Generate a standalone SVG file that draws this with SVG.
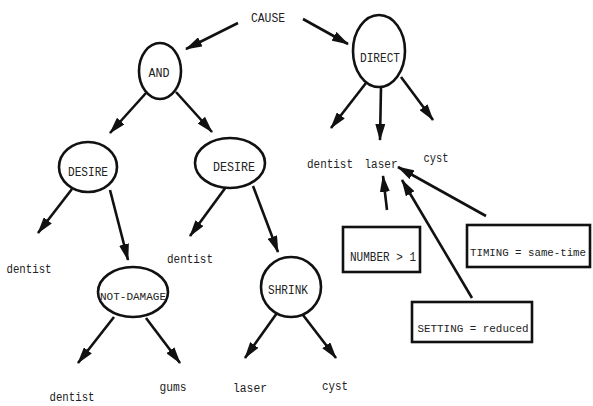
<svg xmlns="http://www.w3.org/2000/svg" width="593" height="406" viewBox="0 0 593 406">
<style>
.n{fill:#fff;stroke:#111;stroke-width:2.6}
.b{fill:#fff;stroke:#111;stroke-width:2.6}
.t{font-family:"Liberation Mono","DejaVu Sans Mono",monospace;font-size:12px;fill:#222;text-anchor:middle}
.s{font-size:11px}
.c line{stroke:#111;stroke-width:2.6;marker-end:url(#ah)}
</style>
<defs>
<marker id="ah" markerUnits="userSpaceOnUse" markerWidth="17" markerHeight="10" viewBox="0 0 17 10" refX="16" refY="5" orient="auto">
<path d="M0,0 L17,5 L0,10 z" fill="#111"/>
</marker>
</defs>
<rect width="593" height="406" fill="#fff"/>
<g class="c" id="connectors">
<line x1="238" y1="23" x2="186" y2="49"/>
<line x1="303" y1="19" x2="348" y2="44"/>
<line x1="146" y1="93" x2="110" y2="133"/>
<line x1="176" y1="92" x2="212" y2="132"/>
<line x1="72" y1="189" x2="38" y2="233"/>
<line x1="110" y1="190" x2="128" y2="260"/>
<line x1="226" y1="187" x2="190" y2="236"/>
<line x1="253" y1="186" x2="278" y2="252"/>
<line x1="114" y1="317" x2="78" y2="363"/>
<line x1="146" y1="318" x2="180" y2="363"/>
<line x1="277" y1="313" x2="245" y2="358"/>
<line x1="303" y1="315" x2="336" y2="358"/>
<line x1="366" y1="83" x2="331" y2="128"/>
<line x1="381" y1="87" x2="380" y2="140"/>
<line x1="401" y1="77" x2="433" y2="120"/>
<line x1="387" y1="210" x2="383" y2="176"/>
<line x1="472" y1="298" x2="402" y2="180"/>
<line x1="486" y1="216" x2="398" y2="167"/>
</g>
<g id="cause"><text class="t" x="268" y="22" textLength="34" lengthAdjust="spacingAndGlyphs">CAUSE</text></g>
<g id="and"><ellipse class="n" cx="160" cy="71" rx="21" ry="28"/><text class="t" x="159" y="77" textLength="21" lengthAdjust="spacingAndGlyphs">AND</text></g>
<g id="direct"><ellipse class="n" cx="379" cy="51" rx="26" ry="36"/><text class="t" x="380" y="62" textLength="40" lengthAdjust="spacingAndGlyphs">DIRECT</text></g>
<g id="desire1"><ellipse class="n" cx="88" cy="167" rx="29" ry="25"/><text class="t" x="88" y="176" textLength="40" lengthAdjust="spacingAndGlyphs">DESIRE</text></g>
<g id="desire2"><ellipse class="n" cx="230" cy="163" rx="35" ry="25"/><text class="t" x="234" y="171" textLength="42" lengthAdjust="spacingAndGlyphs">DESIRE</text></g>
<g id="notdamage"><ellipse class="n" cx="133" cy="292" rx="35" ry="25"/><text class="t s" x="133" y="300" textLength="66" lengthAdjust="spacingAndGlyphs">NOT-DAMAGE</text></g>
<g id="shrink"><ellipse class="n" cx="291" cy="287" rx="30" ry="30"/><text class="t" x="288" y="294" textLength="40" lengthAdjust="spacingAndGlyphs">SHRINK</text></g>
<g id="number"><rect class="b" x="343" y="227" width="77" height="45"/><text class="t" x="383" y="261" textLength="66" lengthAdjust="spacingAndGlyphs">NUMBER &gt; 1</text></g>
<g id="timing"><rect class="b" x="467" y="225" width="123" height="42"/><text class="t s" x="528" y="256" textLength="116" lengthAdjust="spacingAndGlyphs">TIMING = same-time</text></g>
<g id="setting"><rect class="b" x="412" y="302" width="120" height="40"/><text class="t s" x="473" y="332" textLength="111" lengthAdjust="spacingAndGlyphs">SETTING = reduced</text></g>
<g id="d-dentist"><text class="t" x="330" y="168" textLength="46" lengthAdjust="spacingAndGlyphs">dentist</text></g>
<g id="d-laser"><text class="t" x="381" y="168" textLength="33" lengthAdjust="spacingAndGlyphs">laser</text></g>
<g id="d-cyst"><text class="t" x="436" y="162" textLength="25" lengthAdjust="spacingAndGlyphs">cyst</text></g>
<g id="l-dentist"><text class="t" x="29" y="273" textLength="45" lengthAdjust="spacingAndGlyphs">dentist</text></g>
<g id="r-dentist"><text class="t" x="190" y="263" textLength="46" lengthAdjust="spacingAndGlyphs">dentist</text></g>
<g id="b-dentist"><text class="t" x="72" y="401" textLength="45" lengthAdjust="spacingAndGlyphs">dentist</text></g>
<g id="gums"><text class="t" x="173" y="391" textLength="27" lengthAdjust="spacingAndGlyphs">gums</text></g>
<g id="s-laser"><text class="t" x="250" y="392" textLength="34" lengthAdjust="spacingAndGlyphs">laser</text></g>
<g id="s-cyst"><text class="t" x="335" y="390" textLength="26" lengthAdjust="spacingAndGlyphs">cyst</text></g>
</svg>
